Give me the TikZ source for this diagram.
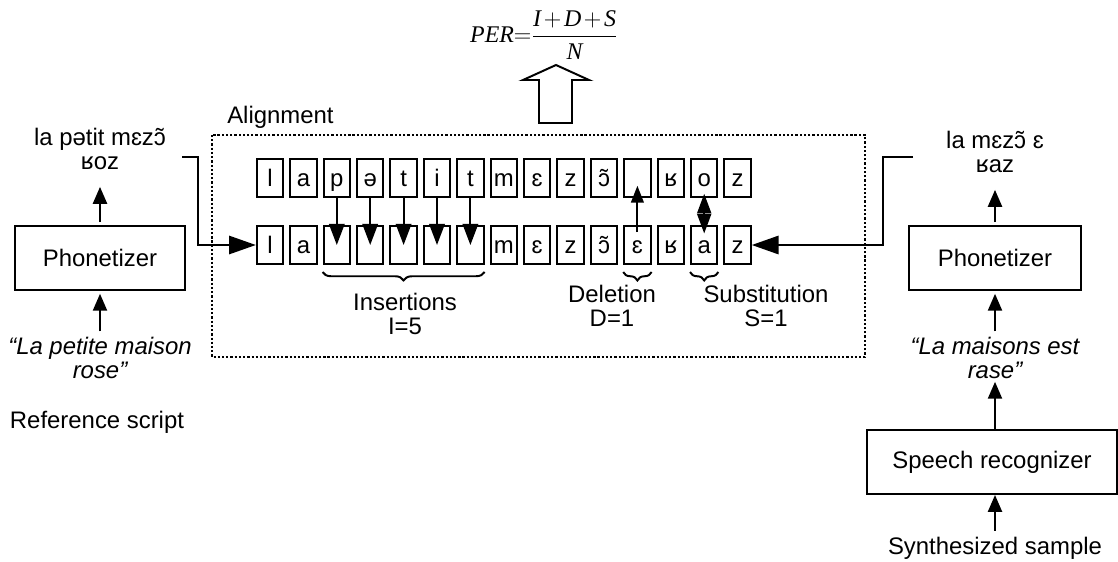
\documentclass[tikz,border=0pt]{standalone}
\usepackage{fontspec}
\setmainfont{Liberation Sans}
\newfontfamily\timesf{Liberation Serif}
\newcommand{\pv}[1]{\mbox{\timesf\itshape #1}}
\usetikzlibrary{arrows.meta,positioning,decorations.pathreplacing,calc}

\begin{document}
\begin{tikzpicture}[
  x=0.025cm, y=-0.025cm,
  every node/.style={font=\fontsize{17}{17}\selectfont},
  pbox/.style={rectangle, draw, line width=1.4pt, minimum width=0.66cm,
               minimum height=0.95cm, inner sep=0pt, text height=12pt,
               text depth=0pt},
  blk/.style={rectangle, draw, line width=1.4pt, minimum height=1.6cm,
              inner sep=0pt},
  txt/.style={align=center, inner sep=0pt},
  itxt/.style={align=center, inner sep=0pt,
               font=\fontsize{17}{17}\selectfont\itshape},
  arr/.style={draw, line width=1.4pt, -{Triangle[length=12pt,width=10pt]}},
  bigarr/.style={draw, line width=1.4pt, -{Triangle[length=19pt,width=13pt]}},
  insarr/.style={draw, line width=1.4pt, -{Triangle[length=15pt,width=11pt]}},
  brc/.style={decorate, decoration={brace, mirror, amplitude=6pt},
              line width=1.4pt},
  dotbox/.style={draw, line width=1.4pt, dash pattern=on 1.6pt off 1.4pt}
]
\useasboundingbox (0,0) rectangle (1118,561);

% error rate formula
\node (per) at (544,35)
  {$\displaystyle \pv{PER}{=}\frac{\pv{I}\mkern2mu{+}\mkern2mu\pv{D}\mkern2mu{+}\mkern2mu\pv{S}}{\pv{N}}$};
\draw[line width=1.4pt] (539,123) -- (539,80) -- (523,80) -- (556,65)
  -- (589,80) -- (572,80) -- (572,123) -- cycle;

% alignment frame
\node[anchor=west, inner sep=0pt] (alnt) at (227,117) {Alignment};
\draw[dotbox] (212,135) rectangle (865,357);

% reference and recognized phonemes
\foreach \ph [count=\k from 0] in {l,a,p,ə,t,i,t,m,ɛ,z,ɔ̃,{},ʁ,o,z}
  \node[pbox] (t\k) at ({270+33.4*\k},178) {\ph};
\foreach \ph [count=\k from 0] in {l,a,{},{},{},{},{},m,ɛ,z,ɔ̃,ɛ,ʁ,a,z}
  \node[pbox] (b\k) at ({270+33.4*\k},245) {\ph};

\foreach \k in {2,...,6}
  \draw[insarr] (t\k.south) -- (b\k.center);
\draw[line width=1.4pt, -{Triangle[length=12pt,width=9pt]}]
  ([yshift=-5pt]b11.north) -- ([yshift=-5.5pt]t11.center);
\draw[line width=1.4pt, {Triangle[length=14pt,width=10pt]}-{Triangle[length=14pt,width=10pt]}]
  ([yshift=3pt]t13.south) -- ([yshift=-6pt]b13.north);

\draw[brc] ([yshift=-5pt]b2.south west) -- ([yshift=-5pt]b6.south east);
\draw[brc] ([yshift=-5pt]b11.south west) -- ([yshift=-5pt]b11.south east);
\draw[brc] ([yshift=-5pt]b13.south west) -- ([yshift=-5pt]b13.south east);
\node[txt] (insl) at (405,314) {Insertions\\I=5};
\node[txt] (dell) at (612,306) {Deletion\\D=1};
\node[txt] (subl) at (766,306) {Substitution\\S=1};

% reference side
\node[blk, minimum width=4.25cm] (phonL) at (100,258) {Phonetizer};
\node[txt] (ipaL) at (100,149) {la pətit mɛzɔ̃\\ʁoz};
\node[itxt] (quoteL) at (100,358) {“La petite maison\\rose”};
\node[txt] (refs) at (97,422) {Reference script};
\draw[arr, shorten <=4pt, shorten >=2pt] (quoteL) -- (phonL);
\draw[arr, shorten <=2pt, shorten >=12pt] (phonL) -- (ipaL);
\coordinate (inL) at (182,157);
\draw[bigarr] (inL) -- ++(16,0) |- (b0.west);

% synthesized side
\node[blk, minimum width=4.3cm] (phonR) at (995,258) {Phonetizer};
\node[txt] (ipaR) at (995,152) {la mɛzɔ̃ ɛ\\ʁaz};
\node[itxt] (quoteR) at (995,358) {“La maisons est\\rase”};
\node[blk, minimum width=6.25cm] (srec) at (992,462) {Speech recognizer};
\node[txt] (synth) at (995,548) {Synthesized sample};
\draw[arr, shorten <=4pt, shorten >=2pt] (quoteR) -- (phonR);
\draw[arr, shorten <=2pt, shorten >=12pt] (phonR) -- (ipaR);
\draw[arr, shorten >=2pt] (srec.north -| quoteR.south) -- (quoteR.south);
\draw[arr, shorten <=4pt] (synth.north) -- (synth.north |- srec.south);
\coordinate (inR) at (913,157);
\draw[bigarr] (inR) -- ++(-30,0) |- (b14.east);
\end{tikzpicture}
\end{document}
